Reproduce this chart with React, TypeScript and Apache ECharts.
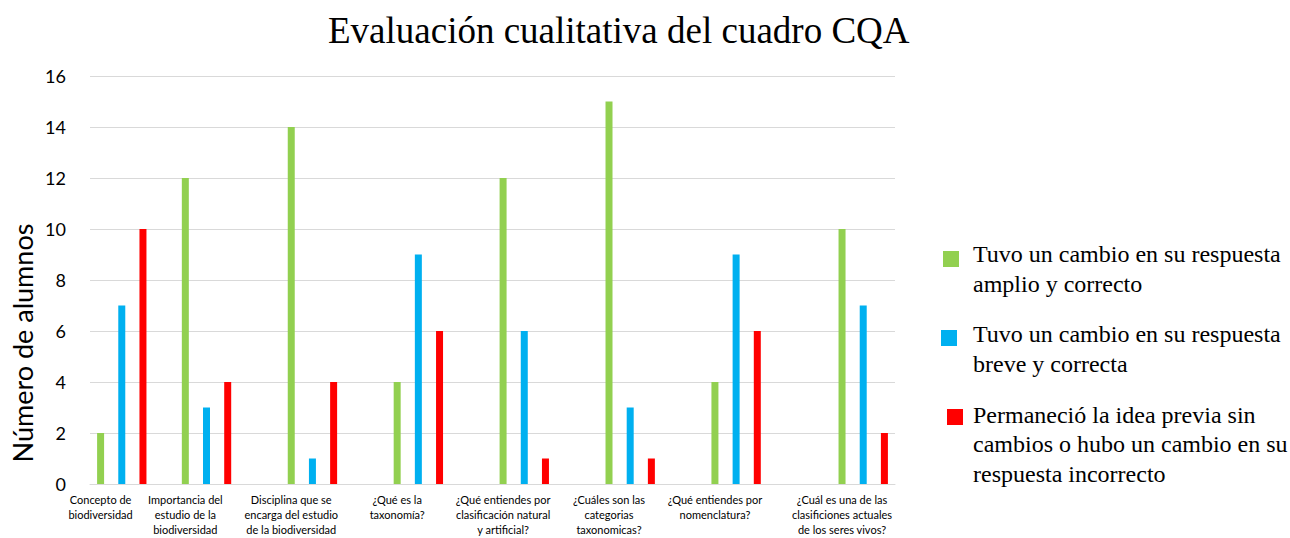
import React, { useEffect, useRef } from "react";
import * as echarts from "echarts";

const questions = [
  "Concepto de\nbiodiversidad",
  "Importancia del\nestudio de la\nbiodiversidad",
  "Disciplina que se\nencarga del estudio\nde la biodiversidad",
  "¿Qué es la\ntaxonomía?",
  "¿Qué entiendes por\nclasificación natural\ny artificial?",
  "¿Cuáles son las\ncategorias\ntaxonomicas?",
  "¿Qué entiendes por\nnomenclatura?",
  "¿Cuál es una de las\nclasificiones actuales\nde los seres vivos?",
];
// slot index (of 38 slots on the category axis) where each question's first bar sits
const questionSlots = [0, 4, 9, 14, 19, 24, 29, 35];
const totalSlots = 38;

const amplioCorrecto = [2, 12, 14, 4, 12, 15, 4, 10];
const breveCorrecta = [7, 3, 1, 9, 6, 3, 9, 7];
const sinCambioIncorrecto = [10, 4, 4, 6, 1, 1, 6, 2];

const seriesNames = [
  "Tuvo un cambio en su respuesta amplio y correcto",
  "Tuvo un cambio en su respuesta breve y correcta",
  "Permaneció la idea previa sin cambios o hubo un cambio en su respuesta incorrecto",
];
const legendLines = [
  "Tuvo un cambio en su respuesta\namplio y correcto",
  "Tuvo un cambio en su respuesta\nbreve y correcta",
  "Permaneció la idea previa sin\ncambios o hubo un cambio en su\nrespuesta incorrecto",
];
const colors = ["#92D050", "#00B0F0", "#FF0000"];
const yTicks = [0, 2, 4, 6, 8, 10, 12, 14, 16];

const SERIF = "'Liberation Serif', 'Times New Roman', serif";

function buildSlots(values: number[], offset: number): (number | null)[] {
  const arr: (number | null)[] = new Array(totalSlots).fill(null);
  values.forEach((v, i) => {
    arr[questionSlots[i] + offset] = v;
  });
  return arr;
}

export default function App() {
  const ref = useRef<HTMLDivElement>(null);
  useEffect(() => {
    document.body.style.margin = "0";
    if (!ref.current) return;
    const chart = echarts.init(ref.current, undefined, { renderer: "svg" });
    const cats: string[] = new Array(totalSlots).fill("");
    questionSlots.forEach((s, i) => (cats[s] = questions[i]));
    const seriesData = [
      buildSlots(amplioCorrecto, 0),
      buildSlots(breveCorrecta, 1),
      buildSlots(sinCambioIncorrecto, 2),
    ];
    const legendTops = [239.5, 319.5, 400];
    const markerPos = [
      [943, 251],
      [941, 330],
      [947, 409],
    ];
    chart.setOption({
      animation: false,
      title: {
        text: "Evaluación cualitativa del cuadro CQA",
        left: 323,
        top: 7,
        textStyle: {
          fontFamily: SERIF,
          fontSize: 37,
          fontWeight: "normal",
          color: "#000",
        },
      },
      grid: { left: 90, right: 395, top: 76, bottom: 54, containLabel: false },
      xAxis: {
        type: "category",
        data: cats,
        axisTick: { show: false },
        axisLine: { lineStyle: { color: "#D9D9D9", width: 1 } },
        axisLabel: {
          interval: 0,
          margin: 8,
          fontFamily: "Lato",
          fontSize: 11,
          lineHeight: 15,
          color: "#000",
        },
      },
      yAxis: {
        type: "value",
        min: yTicks[0],
        max: yTicks[yTicks.length - 1],
        interval: 2,
        axisLine: { show: false },
        axisTick: { show: false },
        splitLine: { lineStyle: { color: "#D9D9D9", width: 1 } },
        axisLabel: {
          margin: 24,
          fontFamily: "Lato",
          fontSize: 18,
          color: "#000",
        },
      },
      series: seriesData.map((d, i) => ({
        name: seriesNames[i],
        type: "bar",
        data: d,
        barWidth: 7,
        barGap: "-100%",
        itemStyle: { color: colors[i] },
      })),
      graphic: [
        {
          type: "text",
          x: 22,
          y: 343,
          rotation: Math.PI / 2,
          style: {
            text: "Número de alumnos",
            fontFamily: "Lato",
            fontSize: 27,
            fill: "#000",
            align: "center",
            verticalAlign: "middle",
          },
        },
        ...legendLines.flatMap((t, i) => [
          {
            type: "rect",
            shape: { x: markerPos[i][0], y: markerPos[i][1], width: 16, height: 16 },
            style: { fill: colors[i] },
          },
          {
            type: "text",
            x: 973,
            y: legendTops[i],
            style: {
              text: t,
              fontFamily: SERIF,
              fontSize: 24,
              lineHeight: 29.5,
              fill: "#000",
              align: "left",
              verticalAlign: "top",
            },
          },
        ]),
      ],
    });
    return () => chart.dispose();
  }, []);
  return <div ref={ref} style={{ width: 1290, height: 538 }} />;
}
